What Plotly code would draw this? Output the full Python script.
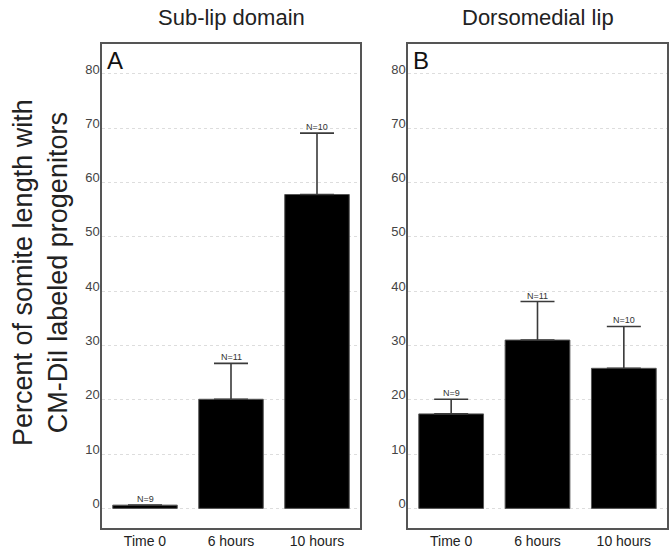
import plotly.graph_objects as go

categories = ["Time 0", "6 hours", "10 hours"]

sublip_values = [0.6, 20.1, 57.8]
sublip_err = [0.0, 6.6, 11.3]
sublip_n = ["N=9", "N=11", "N=10"]

dorso_values = [17.4, 31.0, 25.8]
dorso_err = [2.7, 7.1, 7.7]
dorso_n = ["N=9", "N=11", "N=10"]

panel_titles = ["Sub-lip domain", "Dorsomedial lip"]
panel_letters = ["A", "B"]
y_ticks = [0, 10, 20, 30, 40, 50, 60, 70, 80]
y_title = "Percent of somite length with<br>CM-DiI labeled progenitors"

FONT = "Liberation Sans, Arial, Helvetica, sans-serif"

fig = go.Figure()

panels = [
    (sublip_values, sublip_err, sublip_n, "x", "y"),
    (dorso_values, dorso_err, dorso_n, "x2", "y2"),
]

for vals, errs, ns, xa, ya in panels:
    fig.add_trace(go.Bar(
        x=categories, y=vals, xaxis=xa, yaxis=ya,
        marker=dict(color="black", line=dict(color="#555555", width=1)),
        error_y=dict(type="data", array=errs, symmetric=False, arrayminus=[0] * len(errs),
                     color="#3a3a3a", thickness=1.6, width=17, visible=True),
        showlegend=False, hoverinfo="skip",
    ))
    for c, v, e, n in zip(categories, vals, errs, ns):
        fig.add_annotation(x=c, y=v + e, xref=xa, yref=ya, text=n, showarrow=False,
                           yanchor="bottom", yshift=-1,
                           font=dict(family=FONT, size=9, color="#333333"))

y_range = [-3.61, 85.52]
xdomA = [102 / 671, 360 / 671]
xdomB = [408 / 671, 667 / 671]
ydom = [1 - 528 / 550, 1 - 44 / 550]

axis_common = dict(showline=True, mirror=True, linecolor="#555555", linewidth=1.5,
                   ticks="", automargin=False)

ycommon = dict(range=y_range, tickvals=y_ticks,
               showgrid=True, gridcolor="#dddddd", griddash="dot", gridwidth=1,
               zeroline=False, ticklabelstandoff=-2, ticklabelshift=-5,
               tickfont=dict(size=13, color="#444444"), **axis_common)
xcommon = dict(range=[-0.5, 2.5], showgrid=False, ticklabelstandoff=-1,
               tickfont=dict(size=14, color="#222222"), **axis_common)

fig.update_layout(
    width=671, height=550,
    margin=dict(l=0, r=0, t=0, b=0),
    paper_bgcolor="white", plot_bgcolor="white",
    bargap=0.25,
    font=dict(family=FONT, color="#333333"),
    xaxis=dict(domain=xdomA, anchor="y", **xcommon),
    xaxis2=dict(domain=xdomB, anchor="y2", **xcommon),
    yaxis=dict(domain=ydom, anchor="x", **ycommon),
    yaxis2=dict(domain=ydom, anchor="x2", **ycommon),
)

# Panel titles
for title, dom in zip(panel_titles, [xdomA, xdomB]):
    fig.add_annotation(x=(dom[0] + dom[1]) / 2, y=1 - 18 / 550, xref="paper", yref="paper",
                       text=title, showarrow=False, xanchor="center", yanchor="middle",
                       font=dict(family=FONT, size=22, color="#222222"))

# Panel letters
for letter, dom in zip(panel_letters, [xdomA, xdomB]):
    fig.add_annotation(x=dom[0] + 3 / 671, y=ydom[1] - 1 / 550, xref="paper", yref="paper",
                       text=letter, showarrow=False, xanchor="left", yanchor="top",
                       font=dict(family=FONT, size=24, color="#111111"))

# Y axis title (two lines, rotated)
fig.add_annotation(x=40 / 671, y=1 - 273 / 550, xref="paper", yref="paper",
                   text=y_title, showarrow=False, textangle=-90,
                   xanchor="center", yanchor="middle",
                   font=dict(family=FONT, size=27, color="#222222"))

fig.write_html("out.html", config={"displayModeBar": False},
               post_script="document.body.style.margin='0';document.body.style.overflow='hidden';")
